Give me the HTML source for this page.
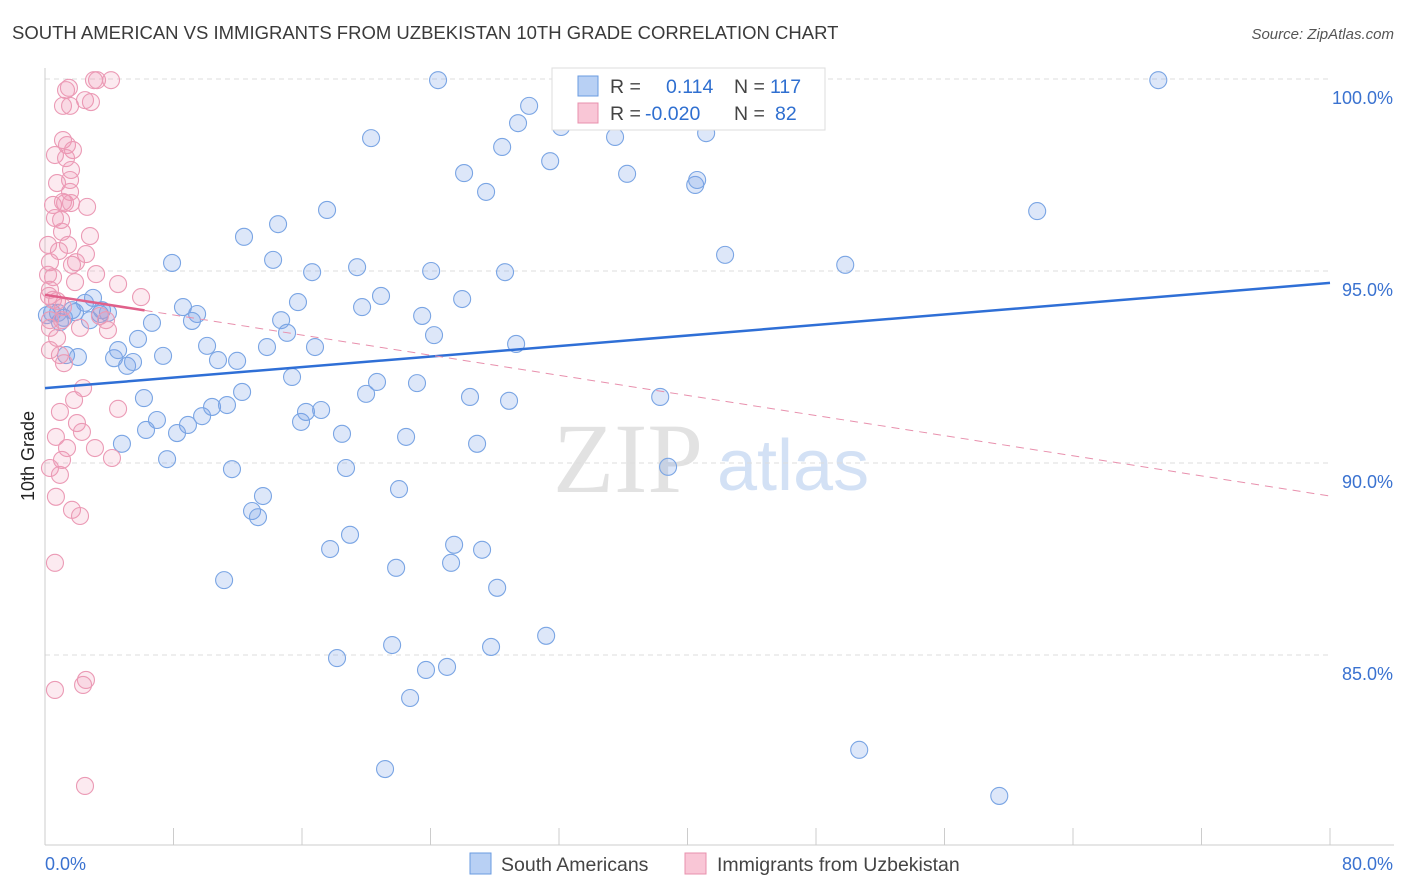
<!DOCTYPE html>
<html><head><meta charset="utf-8"><style>
body{margin:0;background:#fff;font-family:"Liberation Sans",sans-serif;}
svg{display:block}
</style></head><body>
<svg id="chart" width="1406" height="892">
<text x="12" y="39" font-size="18.5" fill="#3a3a3a">SOUTH AMERICAN VS IMMIGRANTS FROM UZBEKISTAN 10TH GRADE CORRELATION CHART</text>
<text x="1394" y="39" font-size="15" fill="#555" font-style="italic" text-anchor="end">Source: ZipAtlas.com</text>
<g>
<text x="553" y="492" font-family="Liberation Serif,serif" font-size="100" fill="#e2e2e2">ZIP</text>
<text x="717" y="490" font-size="72" fill="#d3e1f5">atlas</text>
</g>
<g id="grid"></g>
<g id="axes"></g>
<g id="marks"></g>
<text x="34" y="456" font-size="18" fill="#222" text-anchor="middle" transform="rotate(-90 34 456)">10th Grade</text>
<g>
<rect x="552" y="68" width="273" height="62" fill="#fff" stroke="#ddd"/>
<rect x="578" y="76" width="20" height="20" fill="#b8d0f4" stroke="#6a9be0"/>
<rect x="578" y="103" width="20" height="20" fill="#f9c6d6" stroke="#e890ad"/>
<text x="610" y="93" font-size="19.5" fill="#444">R =</text>
<text x="666" y="93" font-size="19.5" fill="#2f6fd0">0.114</text>
<text x="734" y="93" font-size="19.5" fill="#444">N =</text>
<text x="770" y="93" font-size="19.5" fill="#2f6fd0">117</text>
<text x="610" y="120" font-size="19.5" fill="#444">R =</text>
<text x="645" y="120" font-size="19.5" fill="#2f6fd0">-0.020</text>
<text x="734" y="120" font-size="19.5" fill="#444">N =</text>
<text x="775" y="120" font-size="19.5" fill="#2f6fd0">82</text>
</g>
<g>
<rect x="470" y="853" width="21" height="21" fill="#b8d0f4" stroke="#6a9be0"/>
<text x="501" y="871" font-size="19.5" fill="#444">South Americans</text>
<rect x="685" y="853" width="21" height="21" fill="#f9c6d6" stroke="#e890ad"/>
<text x="717" y="871" font-size="19.5" fill="#444">Immigrants from Uzbekistan</text>
</g>
</svg>
<script>
const yTicks=[100,95,90,85];
const yTickLabels=["100.0%","95.0%","90.0%","85.0%"];
const xTickVals=[0,8,16,24,32,40,48,56,64,72,80];
const xTickLabels=["0.0%","80.0%"];
const blueX=[24.47,32.51,35.37,39.23,69.31,30.14,29.45,37.05,20.30,35.49,41.16,32.13,28.46,31.45,26.09,36.24,27.46,40.48,40.60,17.56,14.51,12.39,61.77,7.91,14.20,19.43,16.63,24.04,28.64,42.34,49.82,20.92,15.75,25.97,8.59,9.47,9.15,19.74,23.48,14.70,15.07,24.22,29.33,13.82,16.81,10.09,11.96,10.77,7.35,6.66,5.79,4.30,5.11,5.48,4.55,2.99,2.49,1.68,1.18,0.93,0.44,0.12,0.81,3.42,3.92,3.55,1.87,2.80,1.31,2.05,15.38,20.67,23.16,12.27,19.99,6.16,6.97,9.78,10.40,11.33,8.90,6.29,8.22,26.46,28.89,38.30,17.19,15.94,16.25,18.49,22.48,26.90,4.79,7.60,11.64,18.74,38.79,13.57,22.04,12.89,13.26,18.99,17.75,25.47,27.21,21.86,25.28,11.15,28.15,31.20,21.61,27.77,18.18,23.72,25.03,22.73,50.69,21.17,59.41];
const blueY=[99.97,99.97,99.97,99.97,99.97,99.30,98.85,99.58,98.46,98.49,98.59,98.75,98.23,97.86,97.55,97.53,97.06,97.24,97.37,96.59,96.22,95.89,96.56,95.21,95.29,95.10,94.97,95.00,94.97,95.42,95.16,94.35,94.19,94.27,94.06,93.88,93.70,94.06,93.83,93.72,93.39,93.33,93.10,93.02,93.02,93.05,92.66,92.68,92.79,93.65,93.23,92.73,92.53,92.63,92.94,94.30,94.17,93.98,93.78,93.67,93.91,93.85,93.91,93.88,93.91,93.98,93.93,93.72,92.81,92.76,92.24,92.11,92.08,91.85,91.80,91.69,91.12,91.22,91.46,91.51,90.99,90.86,90.78,91.72,91.62,91.72,91.38,91.07,91.33,90.76,90.68,90.50,90.50,90.10,89.84,89.87,89.90,89.14,89.32,88.75,88.59,88.13,87.76,87.87,87.74,87.27,87.40,86.95,86.75,85.50,85.26,85.21,84.92,84.61,84.69,83.88,82.53,82.03,81.33];
const pinkX=[3.24,4.11,3.05,1.31,1.49,2.49,2.86,1.12,1.56,1.12,1.37,1.74,0.62,1.31,1.62,1.56,0.75,1.56,0.50,1.12,1.25,1.62,2.62,0.62,1.00,1.06,2.80,1.43,0.19,0.87,2.55,1.93,1.68,0.31,0.19,0.50,3.18,4.55,1.87,0.31,0.25,0.50,5.98,0.75,1.12,0.31,1.06,3.42,3.80,3.92,2.18,0.31,0.75,0.31,0.93,1.18,2.37,1.81,4.55,0.93,1.99,2.30,0.68,3.11,1.37,4.17,1.06,0.31,0.93,0.68,1.68,2.18,0.62,2.55,2.37,0.62,2.49];
const pinkY=[99.97,99.97,99.97,99.71,99.77,99.45,99.40,99.30,99.30,98.41,98.28,98.15,98.02,97.94,97.63,97.37,97.29,97.06,96.72,96.80,96.77,96.77,96.67,96.38,96.33,96.02,95.91,95.68,95.68,95.52,95.44,95.23,95.16,95.23,94.90,94.84,94.92,94.66,94.71,94.51,94.35,94.25,94.32,94.22,94.06,93.72,93.72,93.83,93.72,93.46,93.52,93.52,93.26,92.94,92.81,92.60,91.95,91.64,91.41,91.33,91.04,90.81,90.68,90.39,90.39,90.13,90.08,89.87,89.69,89.12,88.78,88.62,87.40,84.35,84.22,84.09,81.59];
const blueTrend=[91.95,94.69];
const pinkTrend=[94.38,89.14];
const pinkSolidEnd=6.2;

const NS="http://www.w3.org/2000/svg";
const X0=45,X1=1330,Y100=79,PXPER=38.4;
const sx=v=>X0+(X1-X0)*v/80;
const sy=v=>Y100+(100-v)*PXPER;
function mk(tag,attrs,parent){const e=document.createElementNS(NS,tag);for(const k in attrs)e.setAttribute(k,attrs[k]);parent.appendChild(e);return e;}
const grid=document.getElementById('grid'),axes=document.getElementById('axes'),marks=document.getElementById('marks');
yTicks.forEach((t,i)=>{
  const l=mk('line',{x1:X0,x2:X1,y1:sy(t),y2:sy(t),stroke:'#ddd','stroke-dasharray':'5,4'},grid);
  
  
  const tx=mk('text',{x:1393,y:sy(t)+25,'font-size':18,fill:'#3a72d0','text-anchor':'end'},axes);
  tx.textContent=yTickLabels[i];
  
  
});
const ax=mk('line',{x1:X0,x2:X0,y1:68,y2:845,stroke:'#ccc'},axes);


const bx=mk('line',{x1:X0,x2:1394,y1:845,y2:845,stroke:'#ccc'},axes);


xTickVals.forEach(v=>{
  const t=mk('line',{x1:sx(v),x2:sx(v),y1:828,y2:845,stroke:'#ccc'},axes);
  
  
});
const xl0=mk('text',{x:X0,y:870,'font-size':18,fill:'#3a72d0'},axes);
xl0.textContent=xTickLabels[0];


const xl1=mk('text',{x:1393,y:870,'font-size':18,fill:'#3a72d0','text-anchor':'end'},axes);
xl1.textContent=xTickLabels[1];



blueX.forEach((x,i)=>{
  const c=mk('circle',{cx:sx(x),cy:sy(blueY[i]),r:8.5,fill:'rgba(120,160,230,0.25)',stroke:'#7aa5e4','stroke-width':1.1},marks);
  
  
});
pinkX.forEach((x,i)=>{
  const c=mk('circle',{cx:sx(x),cy:sy(pinkY[i]),r:8.5,fill:'rgba(240,150,178,0.2)',stroke:'#eb9ab5','stroke-width':1.1},marks);
  
  
});
const bt=mk('line',{x1:sx(0),y1:sy(blueTrend[0]),x2:sx(80),y2:sy(blueTrend[1]),stroke:'#2f6fd6','stroke-width':2.5},marks);


const pAt=v=>pinkTrend[0]+(pinkTrend[1]-pinkTrend[0])*v/80;
const ps=mk('line',{x1:sx(0),y1:sy(pAt(0)),x2:sx(pinkSolidEnd),y2:sy(pAt(pinkSolidEnd)),stroke:'#e0608a','stroke-width':2.5},marks);


const pd=mk('line',{x1:sx(pinkSolidEnd),y1:sy(pAt(pinkSolidEnd)),x2:sx(80),y2:sy(pAt(80)),stroke:'#e890ad','stroke-width':1,'stroke-dasharray':'8,6'},marks);


</script>
</body></html>
